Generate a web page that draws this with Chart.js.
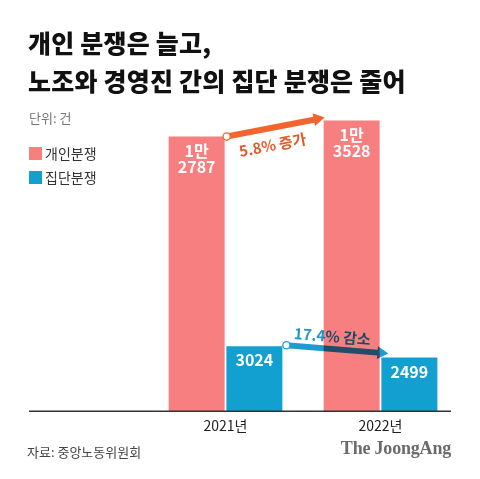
<!DOCTYPE html>
<html><head><meta charset="utf-8">
<script src="https://cdn.jsdelivr.net/npm/chart.js@4.4.0/dist/chart.umd.min.js"></script>
<style>
html,body{margin:0;padding:0;background:#fff;}
#wrap{position:relative;width:480px;height:479px;overflow:hidden;font-family:"Noto Sans CJK KR","Noto Sans",sans-serif;}
#c{position:absolute;left:0;top:0;}
.t{position:absolute;white-space:nowrap;}
#title{left:28px;top:23px;font-size:25px;font-weight:900;color:#111;line-height:38px;letter-spacing:0.2px;}
#unit{left:29px;top:108px;font-size:13px;color:#777;}
.lg{left:29px;font-size:14px;color:#333;display:flex;align-items:center;}
.lg span{display:inline-block;width:13px;height:13px;margin-right:3px;}
#src{left:27px;top:442px;font-size:13px;color:#444;}
#brand{right:29px;top:438px;font-family:"Liberation Serif","DejaVu Serif",serif;font-weight:700;font-size:18px;color:#6b6b6b;letter-spacing:-0.2px;}
</style></head>
<body>
<div id="wrap">
<canvas id="c" width="480" height="479"></canvas>
<div class="t" id="title">개인 분쟁은 늘고,<br>노조와 경영진 간의 집단 분쟁은 줄어</div>
<div class="t" id="unit">단위: 건</div>
<div class="t lg" id="lg1" style="top:143px"><span style="background:#F77F7F"></span>개인분쟁</div>
<div class="t lg" id="lg2" style="top:167px"><span style="background:#12A0D0"></span>집단분쟁</div>
<div class="t" id="src">자료: 중앙노동위원회</div>
<div class="t" id="brand">The JoongAng</div>
</div>
<script>
const categories = ['2021년', '2022년'];
const seriesNames = ['개인분쟁', '집단분쟁'];
const individualDisputes = [12787, 13528];
const collectiveDisputes = [3024, 2499];
const changeLabels = ['5.8% 증가', '17.4% 감소'];

function fmtKo(v){
  if (v >= 10000) { return [Math.floor(v/10000) + '만', String(v % 10000)]; }
  return [String(v)];
}

const deco = {
  id: 'deco',
  afterDatasetsDraw(chart){
    const ctx = chart.ctx;
    const ca = chart.chartArea;
    // bar value labels
    ctx.save();
    ctx.fillStyle = '#fff';
    ctx.textAlign = 'center';
    ctx.textBaseline = 'middle';
    ctx.font = '700 16px "Noto Sans CJK KR", sans-serif';
    chart.data.datasets.forEach((ds, di) => {
      const meta = chart.getDatasetMeta(di);
      meta.data.forEach((bar, i) => {
        const lines = fmtKo(ds.data[i]);
        lines.forEach((ln, k) => ctx.fillText(ln, bar.x, bar.y + 14 + k * 16));
      });
    });
    ctx.restore();

    function arrow(x0, y0, x1, y1, style, lw){
      const ang = Math.atan2(y1 - y0, x1 - x0);
      const len = Math.hypot(x1 - x0, y1 - y0);
      ctx.save();
      ctx.translate(x0, y0);
      ctx.rotate(ang);
      ctx.fillStyle = style;
      const hl = 11, hw = 6.5;
      ctx.beginPath();
      ctx.moveTo(0, -lw/2);
      ctx.lineTo(len - hl, -lw/2);
      ctx.lineTo(len - hl, -hw);
      ctx.lineTo(len, 0);
      ctx.lineTo(len - hl, hw);
      ctx.lineTo(len - hl, lw/2);
      ctx.lineTo(0, lw/2);
      ctx.closePath();
      ctx.fill();
      ctx.restore();
    }
    function dot(x, y, col){
      ctx.save();
      ctx.beginPath();
      ctx.arc(x, y, 3.6, 0, Math.PI*2);
      ctx.fillStyle = '#fff';
      ctx.fill();
      ctx.lineWidth = 1.3;
      ctx.strokeStyle = col;
      ctx.stroke();
      ctx.restore();
    }

    // orange arrow (individual)
    const m0 = chart.getDatasetMeta(0).data;
    const ax0 = m0[0].x + m0[0].width/2 + 2, ay0 = m0[0].y;
    const ax1 = m0[1].x - m0[1].width/2 + 1, ay1 = m0[1].y - 3;
    const orange = '#F2652F';
    arrow(ax0, ay0, ax1, ay1, orange, 6);
    dot(ax0, ay0, orange);
    ctx.save();
    const oang = Math.atan2(ay1 - ay0, ax1 - ax0);
    ctx.translate((ax0+ax1)/2 - 3, (ay0+ay1)/2 + 18);
    ctx.rotate(oang);
    ctx.font = '700 15px "Noto Sans CJK KR", sans-serif';
    ctx.textAlign = 'center';
    ctx.textBaseline = 'middle';
    ctx.fillStyle = '#E35A2A';
    ctx.fillText(changeLabels[0], 0, 0);
    ctx.restore();

    // blue arrow (collective) - multiply blend
    const m1 = chart.getDatasetMeta(1).data;
    const bx0 = m1[0].x + m1[0].width/2 + 4, by0 = m1[0].y - 1;
    const bx1 = m1[1].x - m1[1].width/2 + 7, by1 = m1[1].y - 4;
    ctx.save();
    ctx.globalCompositeOperation = 'multiply';
    arrow(bx0, by0, bx1, by1, '#2399D2', 6);
    const bang = Math.atan2(by1 - by0, bx1 - bx0);
    ctx.translate((bx0+bx1)/2 - 5, (by0+by1)/2 - 13);
    ctx.rotate(bang);
    ctx.font = '700 15px "Noto Sans CJK KR", sans-serif';
    ctx.textAlign = 'center';
    ctx.textBaseline = 'middle';
    ctx.fillStyle = '#1F95CF';
    ctx.fillText(changeLabels[1], 0, 0);
    ctx.restore();
    dot(bx0, by0, '#2399D2');

    // baseline
    ctx.save();
    ctx.strokeStyle = '#333';
    ctx.lineWidth = 1.5;
    ctx.beginPath();
    ctx.moveTo(29, ca.bottom);
    ctx.lineTo(451, ca.bottom);
    ctx.stroke();
    ctx.restore();
  }
};

new Chart(document.getElementById('c'), {
  type: 'bar',
  data: {
    labels: categories,
    datasets: [
      { label: seriesNames[0], data: individualDisputes, backgroundColor: '#F77F7F', borderWidth: 0, barPercentage: 0.97, categoryPercentage: 0.745 },
      { label: seriesNames[1], data: collectiveDisputes, backgroundColor: '#12A0D0', borderWidth: 0, barPercentage: 0.97, categoryPercentage: 0.745 }
    ]
  },
  options: {
    responsive: false,
    animation: false,
    devicePixelRatio: 1,
    layout: { padding: { left: 148, right: 22, top: 89, bottom: 39 } },
    plugins: { legend: { display: false }, tooltip: { enabled: false } },
    scales: {
      x: {
        grid: { display: false, drawTicks: false },
        border: { display: false },
        ticks: { padding: 6, color: '#222', font: { family: '"Noto Sans CJK KR", sans-serif', size: 14 } }
      },
      y: { display: false, min: 0, max: 15000 }
    }
  },
  plugins: [deco]
});
</script>
</body></html>
